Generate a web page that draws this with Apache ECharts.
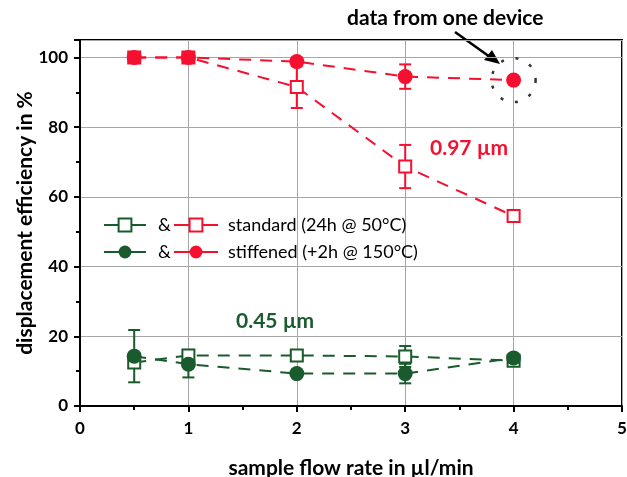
<!DOCTYPE html>
<html><head><meta charset="utf-8">
<script src="https://cdn.jsdelivr.net/npm/echarts@6/dist/echarts.min.js"></script>
<style>html,body{margin:0;padding:0;background:#fff}#c{width:627px;height:477px}</style>
</head><body><div id="c"></div>
<script>
const flowRates = [0.5, 1, 2, 3, 4];
const red_standard = [100, 100, 91.5, 68.7, 54.5];
const red_standard_err = [0, 0, 6, 6.2, 0];
const red_stiffened = [100, 100, 98.8, 94.5, 93.5];
const red_stiffened_err = [0, 0, 0, 3.5, 0];
const green_standard = [12.5, 14.5, 14.5, 14.2, 13];
const green_standard_err = [0, 1.6, 0, 3, 0];
const green_stiffened = [14.3, 12, 9.3, 9.3, 13.8];
const green_stiffened_err = [7.5, 3.8, 0, 2.8, 0];
const singleDevicePoint = [4, 93.5];
const xTicks = [0, 1, 2, 3, 4, 5];
const yTicks = [0, 20, 40, 60, 80, 100];

const RED = '#f5102f', GREEN = '#1a5b2d';
const FONT = 'Lato, "Open Sans", sans-serif';

function pts(ys){ return flowRates.map((x,i)=>[x, ys[i]]); }
function errData(ys, es){ return flowRates.map((x,i)=>[x, ys[i]-es[i], ys[i]+es[i]]).filter((d,i)=>es[i]>0); }

function errSeries(ys, es, color){
  return {
    type:'custom', z:1, silent:true,
    data: errData(ys, es),
    renderItem: function(params, api){
      const x = api.value(0);
      const lo = api.coord([x, api.value(1)]);
      const hi = api.coord([x, api.value(2)]);
      const w = 6;
      const st = {stroke: color, lineWidth: 2};
      return {type:'group', children:[
        {type:'line', shape:{x1:lo[0], y1:lo[1], x2:hi[0], y2:hi[1]}, style:st},
        {type:'line', shape:{x1:lo[0]-w, y1:lo[1], x2:lo[0]+w, y2:lo[1]}, style:st},
        {type:'line', shape:{x1:hi[0]-w, y1:hi[1], x2:hi[0]+w, y2:hi[1]}, style:st}
      ]};
    }
  };
}

function lineSeries(name, ys, color, filled){
  return {
    name: name, type:'line', z:3,
    data: pts(ys),
    symbol: filled ? 'circle' : 'rect',
    symbolSize: filled ? 15 : 12,
    lineStyle: {color: color, width: 2, type: [12, 9]},
    itemStyle: filled ? {color: color, borderColor: color, borderWidth: 0}
                      : {color: '#fff', borderColor: color, borderWidth: 2},
    emphasis: {disabled: true}
  };
}

const chart = echarts.init(document.getElementById('c'), null, {renderer:'canvas'});
const legendText = {
  'g_std': '&', 'g_stf': '&',
  'r_std': 'standard (24h @ 50°C)', 'r_stf': 'stiffened (+2h @ 150°C)'
};
chart.setOption({
  animation: false,
  backgroundColor: '#fff',
  grid: {left: 80, right: 5, top: 40, bottom: 71, outerBoundsMode: 'none', containLabel: false,
         show: true, borderColor: '#000', borderWidth: 2, backgroundColor: 'transparent'},
  xAxis: {
    type:'value', min: xTicks[0], max: xTicks[xTicks.length-1], interval: 1,
    name: 'sample flow rate in µl/min', nameLocation: 'middle', nameGap: 52,
    nameTextStyle: {fontFamily: FONT, fontWeight:'bold', fontSize: 21, color:'#000'},
    axisLine: {show: true, lineStyle: {color:'#000', width: 2}},
    axisTick: {show: true, inside: false, length: 6, lineStyle: {color:'#000', width: 2}},
    minorTick: {show: true, splitNumber: 2, length: 4, lineStyle: {color:'#000', width: 2}},
    axisLabel: {fontFamily: FONT, fontWeight:'bold', fontSize: 17, color:'#000', margin: 14},
    splitLine: {show: true, lineStyle: {color:'#a6a6a6', width: 1}}
  },
  yAxis: {
    type:'value', min: yTicks[0], max: 105, interval: 20,
    name: 'displacement efficiency in %', nameLocation: 'middle', nameGap: 44, nameMoveOverlap: false,
    nameTextStyle: {fontFamily: FONT, fontWeight:'bold', fontSize: 21, color:'#000'},
    axisLine: {show: true, lineStyle: {color:'#000', width: 2}},
    axisTick: {show: true, inside: false, length: 6, lineStyle: {color:'#000', width: 2}},
    minorTick: {show: true, splitNumber: 2, length: 4, lineStyle: {color:'#000', width: 2}},
    axisLabel: {fontFamily: FONT, fontWeight:'bold', fontSize: 17, color:'#000', margin: 12, showMaxLabel: false,
      formatter: v => yTicks.indexOf(v) >= 0 ? String(v) : ''},
    splitLine: {show: true, lineStyle: {color:'#a6a6a6', width: 1}}
  },
  legend: [
    {data: ['g_std','g_stf'], left: 98, top: 211, orient:'vertical', itemGap: 9, itemWidth: 42, itemHeight: 16,
     formatter: n => legendText[n], lineStyle: {type:'solid', width: 2},
     textStyle: {fontFamily: FONT, fontSize: 18, color:'#000', padding: [0,0,0,7]}, selectedMode: false},
    {data: ['r_std','r_stf'], left: 168, top: 211, orient:'vertical', itemGap: 9, itemWidth: 44, itemHeight: 16,
     formatter: n => legendText[n], lineStyle: {type:'solid', width: 2},
     textStyle: {fontFamily: FONT, fontSize: 18, color:'#000', padding: [0,0,0,5]}, selectedMode: false}
  ],
  series: [
    errSeries(red_standard, red_standard_err, RED),
    errSeries(red_stiffened, red_stiffened_err, RED),
    errSeries(green_standard, green_standard_err, GREEN),
    errSeries(green_stiffened, green_stiffened_err, GREEN),
    lineSeries('g_std', green_standard, GREEN, false),
    lineSeries('g_stf', green_stiffened, GREEN, true),
    lineSeries('r_std', red_standard, RED, false),
    lineSeries('r_stf', red_stiffened, RED, true),
    {type:'scatter', z:4, silent:true, data:[singleDevicePoint], symbol:'circle', symbolSize: 44,
     itemStyle: {color:'transparent', borderColor:'#000', borderWidth: 2.5, borderType:[3, 12]}}
  ],
  graphic: [
    {type:'text', left: 347, top: 8, style:{text:'data from one device', font:'bold 21px ' + FONT, fill:'#000'}},
    {type:'text', left: 430, top: 138, style:{text:'0.97 µm', font:'bold 21px ' + FONT, fill: RED}},
    {type:'text', left: 236, top: 311, style:{text:'0.45 µm', font:'bold 21px ' + FONT, fill: GREEN}},
    {type:'line', shape:{x1: 455, y1: 32, x2: 490, y2: 57}, style:{stroke:'#000', lineWidth: 2.5}},
    {type:'polygon', shape:{points:[[500,64],[484,60],[492,50]]}, style:{fill:'#000'}}
  ]
});
</script></body></html>
